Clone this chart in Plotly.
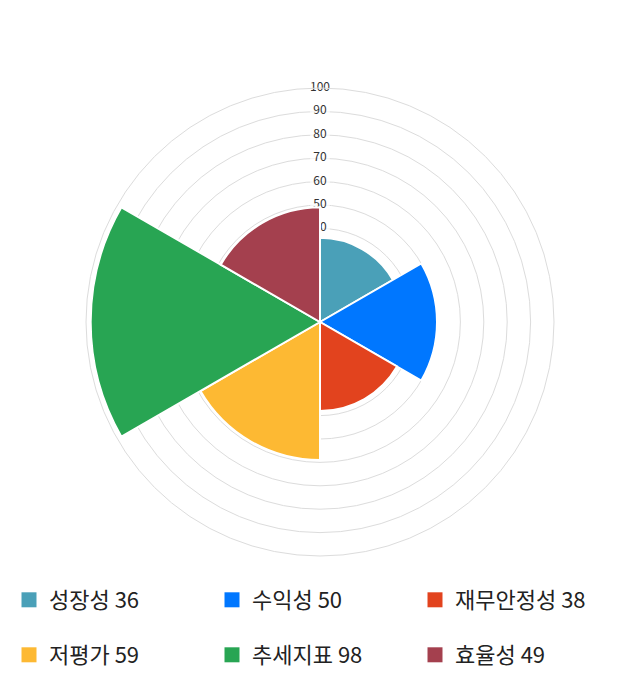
import plotly.graph_objects as go

categories = ["성장성", "수익성", "재무안정성", "저평가", "추세지표", "효율성"]
values = [36, 50, 38, 59, 98, 49]
colors = ["#4aa0b8", "#0077ff", "#e2431e", "#fdb933", "#28a553", "#a4404e"]
tick_vals = [40, 50, 60, 70, 80, 90, 100]
tick_text = [str(v) for v in tick_vals]

FONT = "Noto Sans CJK KR"
fig = go.Figure()

# radial tick labels with white backdrop, on the lower polar subplot
fig.add_trace(go.Scatterpolar(
    r=tick_vals, theta=[0] * len(tick_vals), mode="markers+text",
    text=tick_text, textposition="middle center",
    marker=dict(symbol="line-ew", size=[7 * len(t) for t in tick_text],
                color="white", line=dict(color="white", width=13)),
    textfont=dict(family=FONT, size=12, color="#333333"),
    showlegend=False, hoverinfo="skip", subplot="polar",
))

# wedges on the upper polar subplot (covers labels)
for i, (c, v) in enumerate(zip(categories, values)):
    fig.add_trace(go.Barpolar(
        r=[v], theta=[30 + 60 * i], width=[60],
        name=f"{c} {v}", showlegend=False, subplot="polar2",
        marker=dict(color=colors[i], line=dict(color="white", width=2)),
    ))

# legend entries (square swatches)
for i, (c, v) in enumerate(zip(categories, values)):
    fig.add_trace(go.Scatterpolar(
        r=[None], theta=[None], mode="markers", subplot="polar2",
        name=f"{c} {v}",
        marker=dict(symbol="square", size=15, color=colors[i]),
        legend="legend" if i < 3 else "legend2",
    ))

legend_common = dict(orientation="h", x=9 / 640, xanchor="left",
                     yanchor="middle", entrywidth=158, entrywidthmode="pixels",
                     font=dict(family=FONT, size=22, color="#222222"),
                     itemsizing="trace", bgcolor="rgba(0,0,0,0)")

domain = dict(x=[86 / 640, 554 / 640], y=[1 - 556 / 700, 1 - 88 / 700])
angular = dict(direction="clockwise", rotation=90, showticklabels=False,
               ticks="", showgrid=False, showline=False)

fig.update_layout(
    width=640, height=700,
    margin=dict(l=0, r=0, t=0, b=0),
    paper_bgcolor="white",
    font=dict(family=FONT),
    polar=dict(
        domain=domain, bgcolor="white",
        radialaxis=dict(range=[0, 100], dtick=10, showticklabels=False,
                        ticks="", showline=False, gridcolor="#dcdcdc",
                        gridwidth=1, layer="below traces"),
        angularaxis=dict(angular, showline=True, linecolor="#dcdcdc"),
    ),
    polar2=dict(
        domain=domain, bgcolor="rgba(0,0,0,0)",
        radialaxis=dict(range=[0, 100], dtick=10, showticklabels=False,
                        ticks="", showline=False, showgrid=False),
        angularaxis=angular,
    ),
    legend=dict(y=1 - 600 / 700, **legend_common),
    legend2=dict(y=1 - 655 / 700, **legend_common),
    showlegend=True,
)

fig.write_html("out.html", config={"displayModeBar": False},
               post_script="document.body.style.margin='0';")
